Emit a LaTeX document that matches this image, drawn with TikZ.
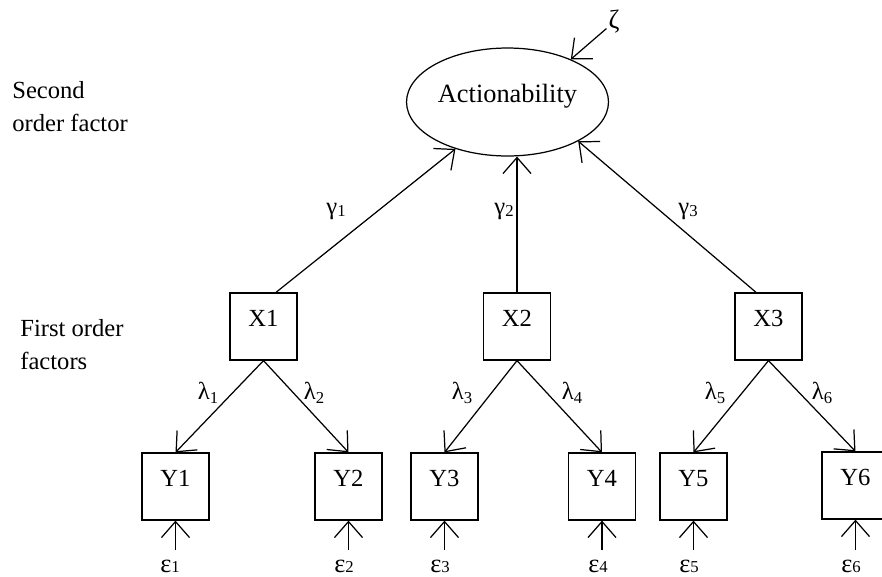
\documentclass[tikz,border=0pt]{standalone}
\usepackage{fontspec}
\setmainfont{Liberation Serif}
\usetikzlibrary{arrows.meta,shapes.geometric}
\newcommand{\ix}[1]{{\fontsize{9.5}{10}\selectfont #1}}
\newcommand{\gx}[1]{\raisebox{-1.5pt}{\ix{#1}}}
\newcommand{\lx}[1]{\raisebox{-2.5pt}{\ix{#1}}}
\begin{document}
\begin{tikzpicture}[x=0.02cm,y=-0.02cm,>={Straight Barb[length=3.2mm,width=5.6mm]},
  every node/.style={font=\fontsize{14}{18.8}\selectfont},
  box/.style={draw,line width=0.7pt,minimum size=1.34cm,inner sep=0pt,text height=8pt,text depth=8pt},
  arr/.style={->,line width=0.7pt},
  eps/.style={inner sep=1pt,font=\fontsize{15}{18}\selectfont}]
 \clip (0,0) rectangle (882,576);
 % second order
 \node[draw,ellipse,line width=0.7pt,minimum width=4.04cm,minimum height=2.16cm,inner sep=0pt,
   text height=8pt,text depth=8pt,font=\fontsize{15}{18}\selectfont] (act) at (507.5,102) {Actionability};
 \node[inner sep=1pt,font=\fontsize{15}{18}\selectfont] (zeta) at (614,22) {ζ};
 \draw[arr] (zeta) -- (act.34);
 \node[anchor=west,align=left,inner sep=0pt] (second) at (12,107) {Second\\order factor};
 \node[anchor=west,align=left,inner sep=0pt] (first) at (20,345) {First order\\factors};
 % first order
 \node[box] (X1) at (263.5,326.5) {X1};
 \node[box] (X2) at (517,326.5) {X2};
 \node[box] (X3) at (768.5,326.5) {X3};
 \draw[arr] (X1.70) -- (act.-138);
 \draw[arr] (X2.north) -- (X2.north |- act.south);
 \draw[arr] (X3.110) -- (act.-29);
 \node at (336,211) {γ\gx{1}};
 \node at (504,211) {γ\gx{2}};
 \node at (688,211) {γ\gx{3}};
 % indicators
 \node[box] (Y1) at (175.5,486.5) {Y1};
 \node[box] (Y2) at (348.5,486.5) {Y2};
 \node[box] (Y3) at (444.5,486.5) {Y3};
 \node[box] (Y4) at (602,486.5) {Y4};
 \node[box] (Y5) at (693.5,486.5) {Y5};
 \node[box] (Y6) at (855.5,485.5) {Y6};
 \draw[arr] (X1.south) -- (Y1.north);
 \draw[arr] (X1.south) -- (Y2.north);
 \draw[arr] (X2.south) -- (Y3.north);
 \draw[arr] (X2.south) -- (Y4.north);
 \draw[arr] (X3.south) -- (Y5.north);
 \draw[arr] (X3.south) -- (Y6.north);
 \node at (208,393) {λ\lx{1}};
 \node at (314,393) {λ\lx{2}};
 \node at (462,393) {λ\lx{3}};
 \node at (572,393) {λ\lx{4}};
 \node at (715,393) {λ\lx{5}};
 \node at (822,393) {λ\lx{6}};
 % errors
 \foreach \k/\xx in {1/170,2/344,3/440,4/598,5/689,6/851} {
  \node[eps] (e\k) at (\xx,566) {ε\ix{\k}};
  \draw[arr,shorten <=4.5pt] (Y\k.south |- e\k.north) -- (Y\k.south);
 }
\end{tikzpicture}
\end{document}
